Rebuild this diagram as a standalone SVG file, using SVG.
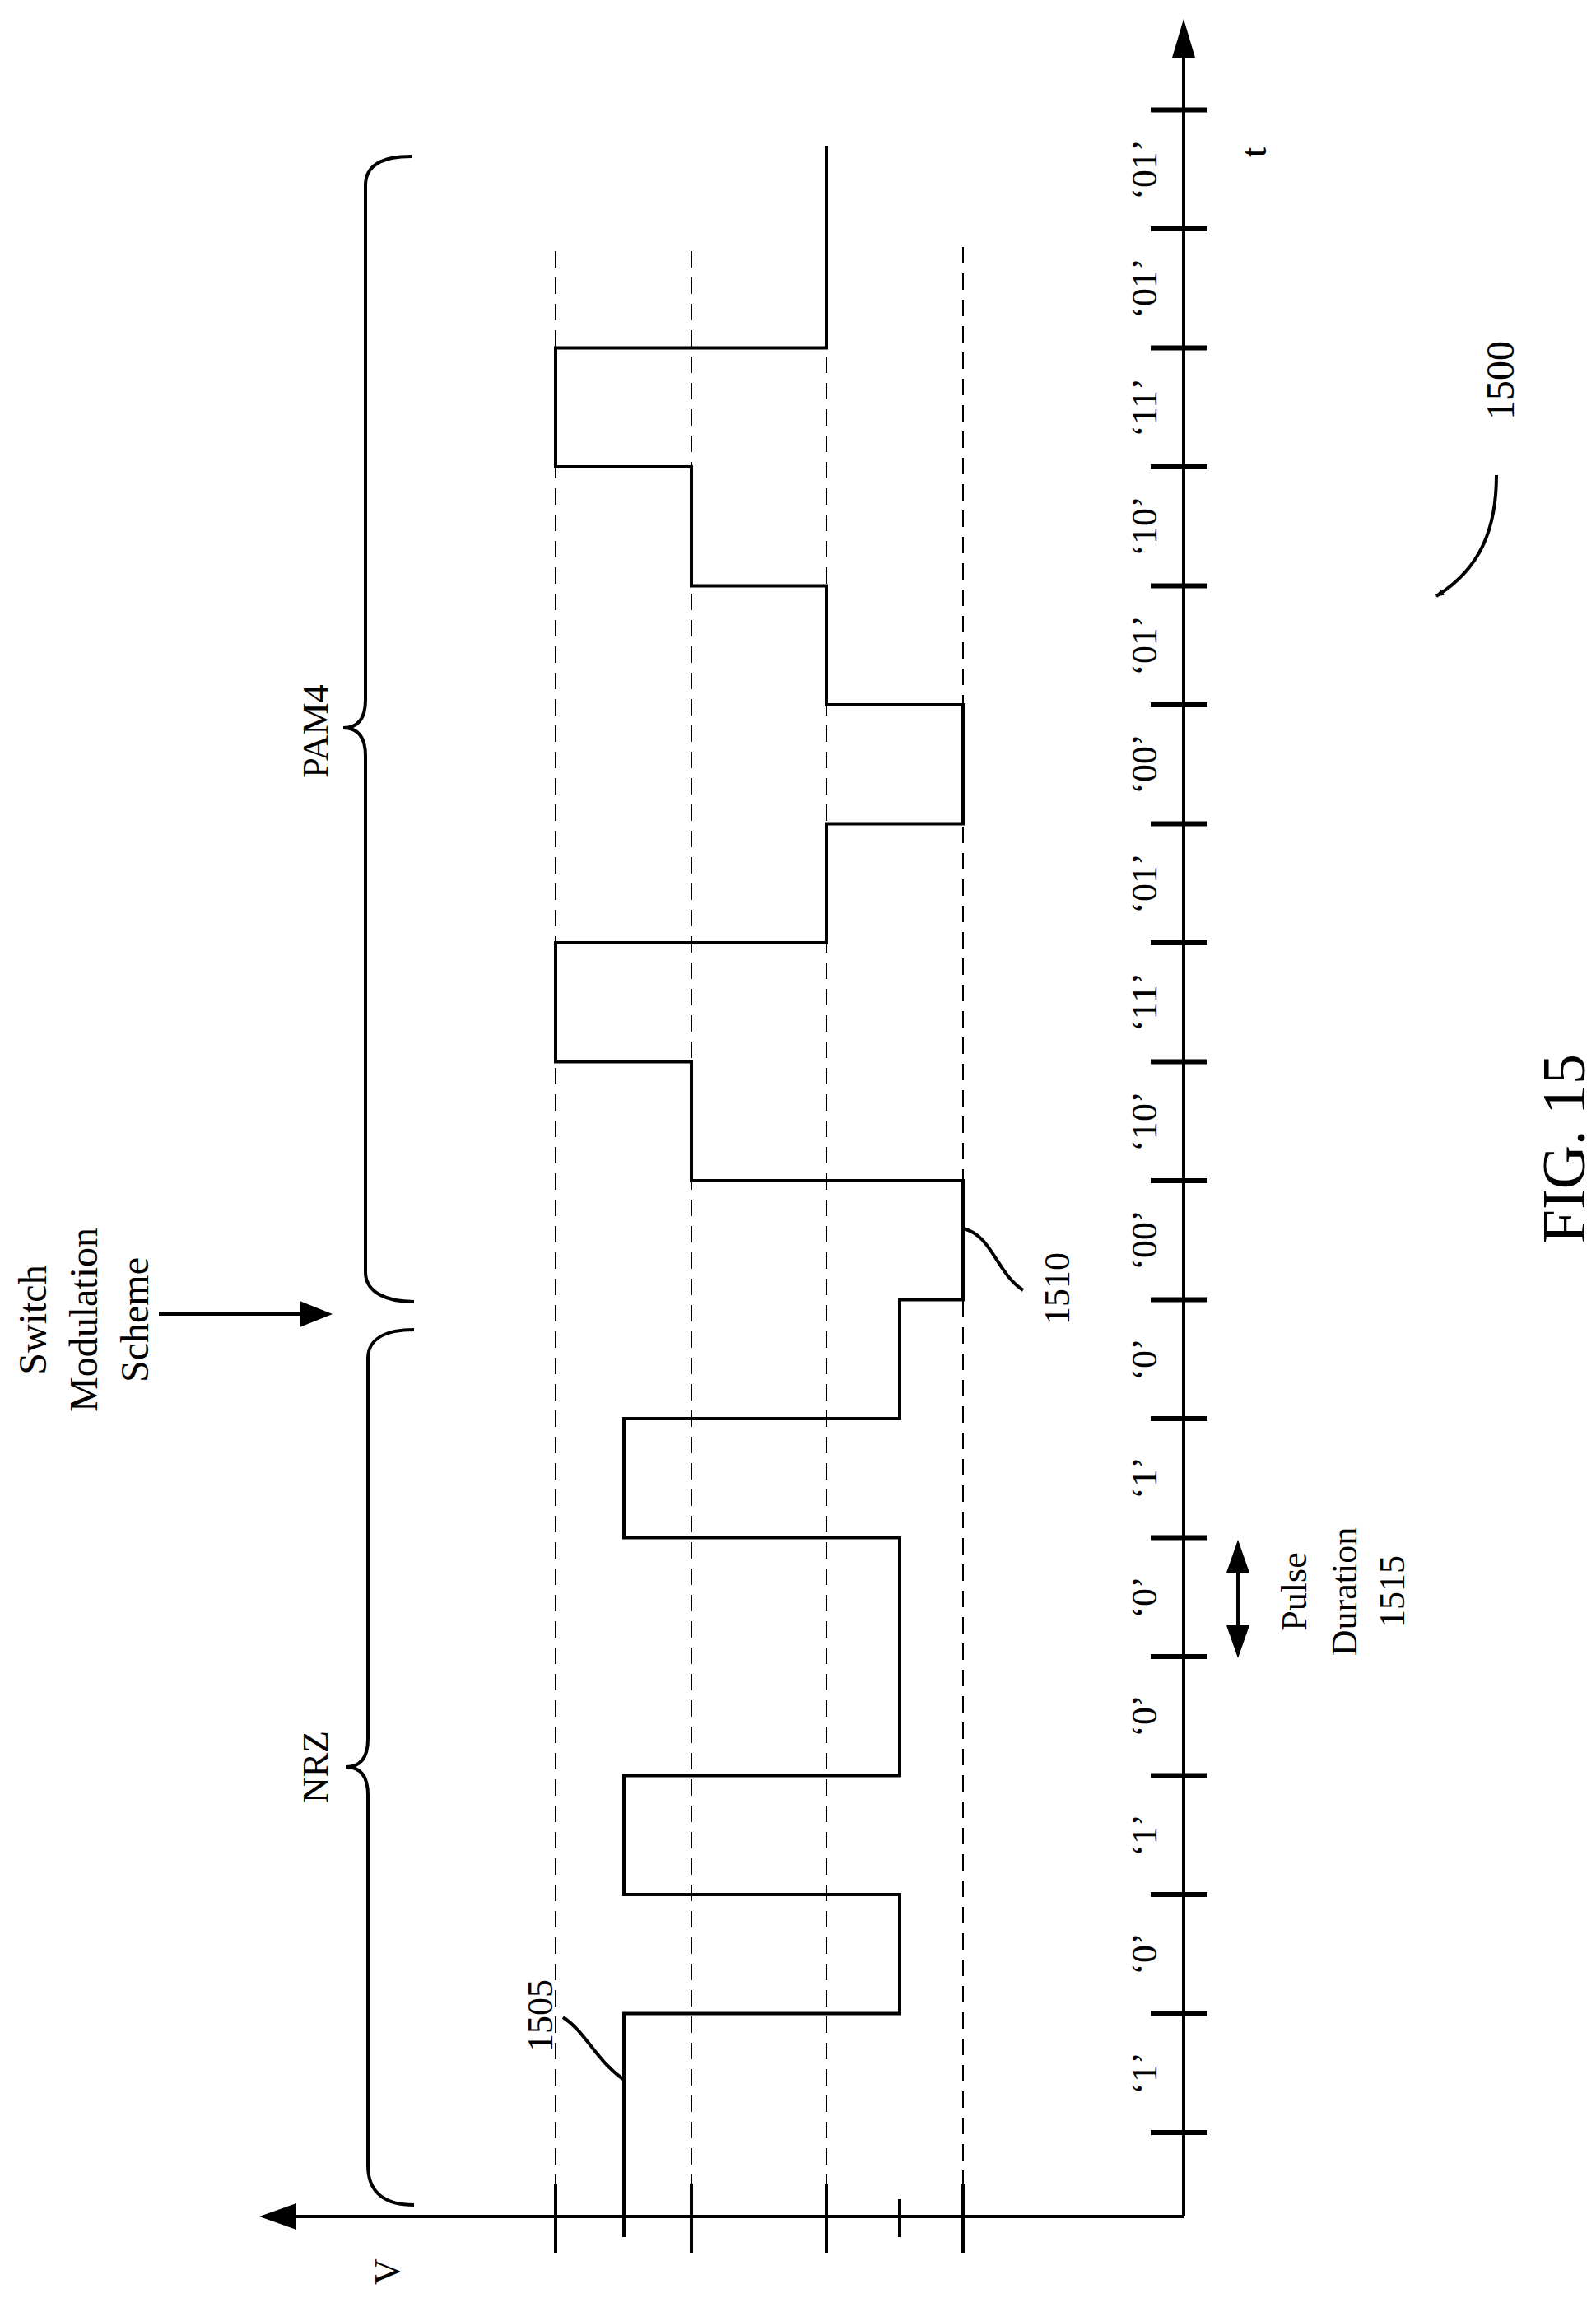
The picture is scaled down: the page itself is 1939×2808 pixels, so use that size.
<svg xmlns="http://www.w3.org/2000/svg" width="1939" height="2808" viewBox="0 0 1939 2808">
<style>
.t{font-family:"Liberation Serif",serif;font-size:44px;fill:#000}
.ln{stroke:#000;stroke-width:4;fill:none}
.tk{stroke:#000;stroke-width:6}
.ds{stroke:#000;stroke-width:2;stroke-dasharray:20,12;fill:none}
</style>
<defs>
<marker id="ah" markerWidth="10" markerHeight="8" refX="9" refY="4" orient="auto" markerUnits="userSpaceOnUse" viewBox="0 0 10 8"><path d="M0,0 L10,4 L0,8 Z"/></marker>
</defs>
<rect width="1939" height="2808" fill="#fff"/>
<g id="axes">
<line class="ln" x1="1438" y1="2692" x2="1438" y2="70"/>
<path d="M1438,23 L1424,70 L1452,70 Z"/>
<line class="ln" x1="1438" y1="2692" x2="360" y2="2692"/>
<path d="M315,2692 L360,2676 L360,2708 Z"/>
<g class="tk">
<line x1="1398" y1="2590" x2="1467" y2="2590"/><line x1="1398" y1="2445.5" x2="1467" y2="2445.5"/>
<line x1="1398" y1="2301" x2="1467" y2="2301"/><line x1="1398" y1="2156.5" x2="1467" y2="2156.5"/>
<line x1="1398" y1="2012" x2="1467" y2="2012"/><line x1="1398" y1="1867.5" x2="1467" y2="1867.5"/>
<line x1="1398" y1="1723" x2="1467" y2="1723"/><line x1="1398" y1="1578.5" x2="1467" y2="1578.5"/>
<line x1="1398" y1="1434" x2="1467" y2="1434"/><line x1="1398" y1="1289.5" x2="1467" y2="1289.5"/>
<line x1="1398" y1="1145" x2="1467" y2="1145"/><line x1="1398" y1="1000.5" x2="1467" y2="1000.5"/>
<line x1="1398" y1="856" x2="1467" y2="856"/><line x1="1398" y1="711.5" x2="1467" y2="711.5"/>
<line x1="1398" y1="567" x2="1467" y2="567"/><line x1="1398" y1="422.5" x2="1467" y2="422.5"/>
<line x1="1398" y1="278" x2="1467" y2="278"/><line x1="1398" y1="133.5" x2="1467" y2="133.5"/>
</g>
<g class="ln" stroke-width="3">
<line x1="675" y1="2652" x2="675" y2="2736"/><line x1="840" y1="2652" x2="840" y2="2736"/>
<line x1="1004" y1="2652" x2="1004" y2="2736"/><line x1="1170" y1="2652" x2="1170" y2="2736"/>
<line x1="1093" y1="2671" x2="1093" y2="2717"/>
</g>
<g class="ds">
<line x1="675" y1="305" x2="675" y2="2652"/><line x1="840" y1="305" x2="840" y2="2652"/>
<line x1="1004" y1="305" x2="1004" y2="2652"/><line x1="1170" y1="300" x2="1170" y2="2652"/>
</g>
</g>
<g id="signal">
<path class="ln" d="M758,2717 V2445.5 H1093 V2301 H758 V2156.5 H1093 V1867.5 H758 V1723 H1093 V1578.5 H1170 V1434 H840 V1289.5 H675 V1145 H1004 V1000.5 H1170 V856 H1004 V711.5 H840 V567 H675 V422.5 H1004 V177"/>
</g>
<g id="labels">
<g class="t" text-anchor="middle">
<text transform="translate(1405,2518) rotate(-90)">‘1’</text>
<text transform="translate(1405,2373) rotate(-90)">‘0’</text>
<text transform="translate(1405,2229) rotate(-90)">‘1’</text>
<text transform="translate(1405,2084) rotate(-90)">‘0’</text>
<text transform="translate(1405,1940) rotate(-90)">‘0’</text>
<text transform="translate(1405,1795) rotate(-90)">‘1’</text>
<text transform="translate(1405,1651) rotate(-90)">‘0’</text>
<text transform="translate(1405,1506) rotate(-90)">‘00’</text>
<text transform="translate(1405,1362) rotate(-90)">‘10’</text>
<text transform="translate(1405,1217) rotate(-90)">‘11’</text>
<text transform="translate(1405,1073) rotate(-90)">‘01’</text>
<text transform="translate(1405,928) rotate(-90)">‘00’</text>
<text transform="translate(1405,784) rotate(-90)">‘01’</text>
<text transform="translate(1405,639) rotate(-90)">‘10’</text>
<text transform="translate(1405,495) rotate(-90)">‘11’</text>
<text transform="translate(1405,350) rotate(-90)">‘01’</text>
<text transform="translate(1405,206) rotate(-90)">‘01’</text>
<text transform="translate(1538,185) rotate(-90)">t</text>
<text transform="translate(485,2759) rotate(-90)">V</text>
<text transform="translate(671,2448) rotate(-90)">1505</text>
<text transform="translate(1299,1565) rotate(-90)">1510</text>
<text transform="translate(398,2146) rotate(-90)">NRZ</text>
<text transform="translate(398,888) rotate(-90)">PAM4</text>
<text transform="translate(1839,462) rotate(-90)" font-size="48">1500</text>
<text transform="translate(1925,1395) rotate(-90)" font-size="74">FIG. 15</text>
<text transform="translate(56,1603) rotate(-90)" font-size="48">Switch</text>
<text transform="translate(118,1603) rotate(-90)" font-size="48">Modulation</text>
<text transform="translate(180,1603) rotate(-90)" font-size="48">Scheme</text>
<text transform="translate(1587,1933) rotate(-90)">Pulse</text>
<text transform="translate(1648,1933) rotate(-90)">Duration</text>
<text transform="translate(1706,1933) rotate(-90)">1515</text>
</g>
</g>
<g id="connectors">
<path class="ln" stroke-width="3" d="M684,2450 C712,2468 722,2500 758,2526"/>
<path class="ln" stroke-width="3" d="M1170,1492 C1205,1500 1210,1545 1243,1567"/>
<line class="ln" x1="193" y1="1596" x2="370" y2="1596"/>
<path d="M404,1596 L364,1580 L364,1612 Z"/>
<line class="ln" x1="1504" y1="1905" x2="1504" y2="1980"/>
<path d="M1504,1870 L1490,1910 L1518,1910 Z"/>
<path d="M1504,2014 L1490,1974 L1518,1974 Z"/>
<path class="ln" stroke-width="3" d="M1818,577 C1818,640 1800,690 1745,724" marker-end="url(#ah)"/>
<path class="ln" stroke-width="3" d="M503,2678 C470,2678 447,2665 447,2630 L447,2180 C447,2160 440,2146 420,2146 C440,2146 447,2132 447,2112 L447,1650 C447,1625 470,1615 503,1615"/>
<path class="ln" stroke-width="3" d="M503,1581 C470,1581 444,1570 444,1545 L444,918 C444,898 437,884 417,884 C437,884 444,870 444,850 L444,225 C444,200 465,190 500,190"/>
</g>
</svg>
